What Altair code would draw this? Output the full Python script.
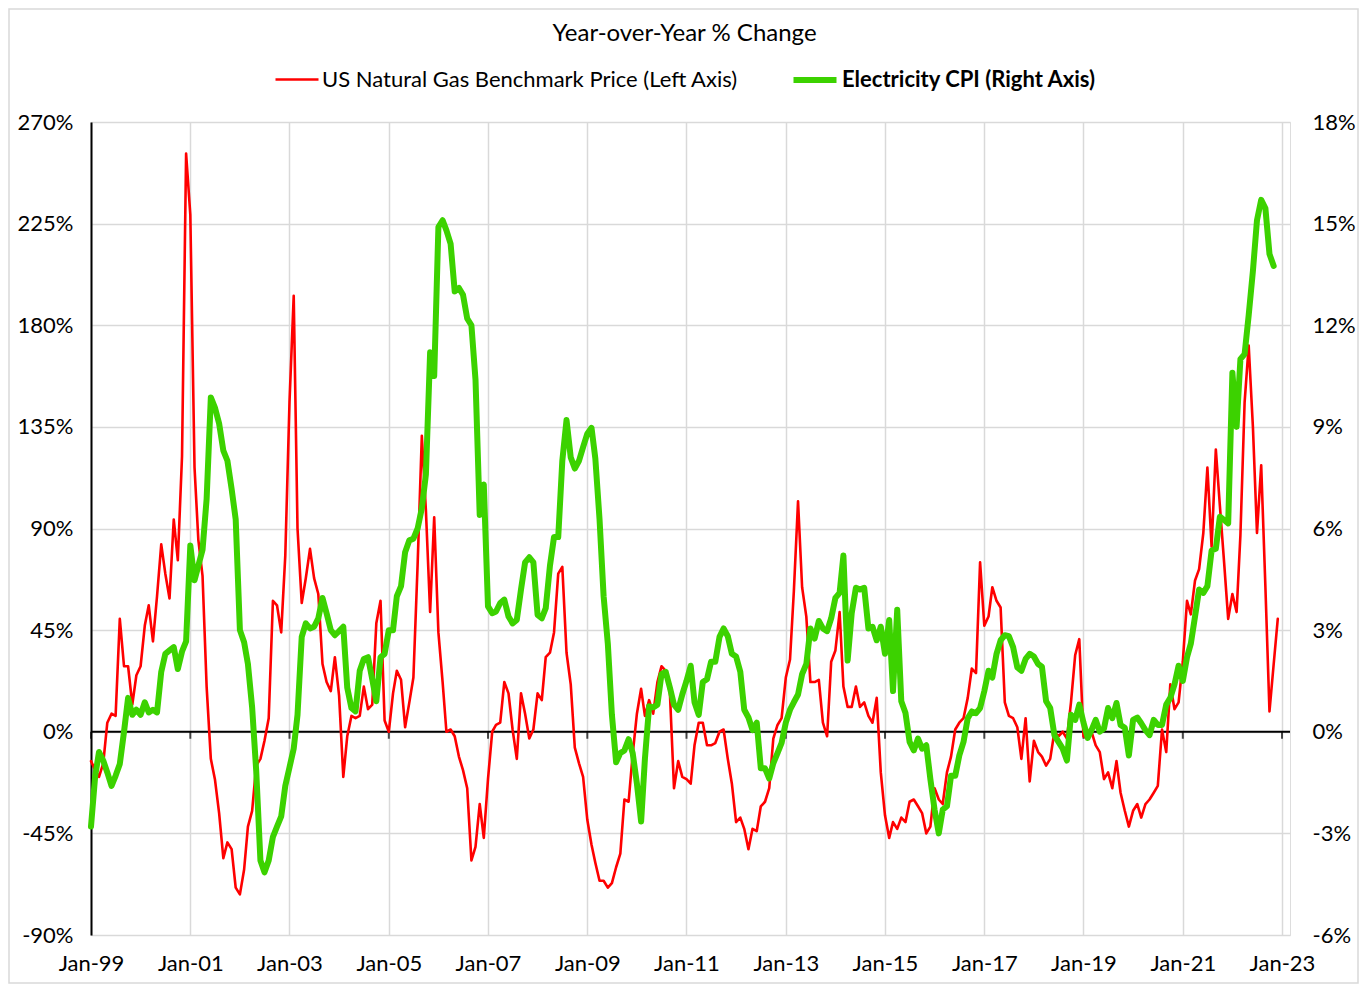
import altair as alt
import pandas as pd

title_text = "Year-over-Year % Change"
gas_name = "US Natural Gas Benchmark Price (Left Axis)"
cpi_name = "Electricity CPI (Right Axis)"
start_month = "1999-01-01"

# Monthly YoY % change of the US natural gas benchmark price (Jan-99 .. Dec-22)
gas_yoy = [
    -13, -17, -20, -14, 4, 8, 7, 50, 29, 29, 12, 25,
    29, 47, 56, 40, 60, 83, 70, 59, 94, 76, 122, 256,
    229, 117, 85, 69, 20, -12, -21, -36, -56, -49, -52, -69,
    -72, -61, -42, -35, -15, -12, -4, 6, 58, 56, 44, 78,
    146, 193, 90, 57, 68, 81, 68, 61, 30, 22, 18, 33,
    16, -20, -2, 7, 6, 7, 20, 10, 12, 48, 58, 5,
    0, 17, 27, 23, 2, 13, 24, 74, 131, 98, 53, 95,
    44, 22, 0, 1, -2, -11, -17, -25, -57, -51, -32, -47,
    -21, 0, 3, 4, 22, 17, 1, -12, 17, 8, -3, 1,
    17, 14, 33, 35, 44, 70, 73, 35, 21, -7, -14, -20,
    -39, -50, -58, -66, -66, -69, -67, -60, -54, -30, -31, -10,
    8, 19, 7, 14, 8, 22, 29, 27, 17, -25, -13, -20,
    -21, -23, -6, 4, 4, -6, -6, -5, 0, 1, -12, -23,
    -40, -38, -43, -52, -43, -44, -33, -31, -25, -3, 3, 6,
    24, 32, 62, 102, 64, 51, 22, 22, 23, 4, -2, 31,
    36, 53, 20, 11, 11, 20, 11, 13, 7, 4, 15, -18,
    -37, -47, -40, -43, -38, -40, -31, -30, -33, -36, -45, -42,
    -25, -30, -32, -18, -11, 1, 4, 6, 15, 28, 26, 75,
    47, 51, 64, 58, 55, 13, 7, 6, 2, -12, 6, -22,
    -4, -9, -11, -15, -12, 0, -2, 0, -3, 13, 34, 41,
    -2, -3, 0, -6, -9, -21, -18, -25, -13, -27, -35, -42,
    -35, -32, -38, -32, -30, -27, -24, 1, -9, 21, 10, 13,
    31, 58, 52, 67, 72, 88, 117, 82, 125, 100, 75, 50,
    61, 53, 87, 146, 171, 135, 88, 118, 64, 9, 30, 50,
]

# Monthly YoY % change of the electricity CPI (Jan-99 .. Nov-22)
cpi_yoy = [
    -2.8, -1.3, -0.6, -0.85, -1.2, -1.6, -1.3, -0.95, 0.0, 1.0, 0.5, 0.65,
    0.5, 0.87, 0.57, 0.65, 0.57, 1.77, 2.3, 2.4, 2.5, 1.85, 2.37, 2.67,
    5.5, 4.47, 4.9, 5.37, 6.87, 9.87, 9.57, 9.1, 8.3, 8.0, 7.17, 6.27,
    3.0, 2.64, 2.0, 0.72, -1.15, -3.8, -4.15, -3.8, -3.1, -2.8, -2.5, -1.6,
    -1.05, -0.5, 0.5, 2.8, 3.2, 3.05, 3.1, 3.35, 3.95, 3.5, 3.0, 2.85,
    2.97, 3.1, 1.3, 0.7, 0.6, 1.8, 2.15, 2.2, 1.55, 0.9, 2.2, 2.3,
    3.0, 3.0, 4.0, 4.3, 5.3, 5.65, 5.7, 6.0, 6.6, 7.6, 11.2, 10.5,
    14.9, 15.1, 14.8, 14.4, 13.0, 13.1, 12.9, 12.2, 12.0, 10.4, 6.4, 7.3,
    3.7, 3.5, 3.55, 3.8, 3.9, 3.4, 3.2, 3.3, 4.2, 5.0, 5.15, 5.0,
    3.45, 3.35, 3.65, 4.9, 5.75, 5.75, 8.0, 9.2, 8.1, 7.77, 8.0, 8.4,
    8.8, 8.97, 8.07, 6.27, 4.0, 2.6, 0.5, -0.9, -0.63, -0.55, -0.22, -0.63,
    -1.53, -2.65, -0.8, 0.75, 0.72, 0.8, 1.7, 1.77, 1.3, 0.8, 0.65, 1.1,
    1.5, 1.95, 0.87, 0.5, 1.47, 1.55, 2.07, 2.07, 2.8, 3.05, 2.82, 2.3,
    2.22, 1.77, 0.65, 0.42, 0.05, 0.27, -1.08, -1.08, -1.38, -0.93, -0.63, -0.33,
    0.27, 0.65, 0.87, 1.1, 1.7, 2.0, 3.05, 2.75, 3.27, 3.05, 2.97, 3.35,
    3.95, 4.1, 5.2, 2.1, 3.5, 4.25, 4.2, 4.25, 3.05, 3.1, 2.7, 3.1,
    2.3, 3.3, 1.2, 3.6, 0.9, 0.55, -0.3, -0.55, -0.2, -0.5, -0.4, -1.4,
    -2.3, -3.0, -2.3, -2.2, -1.3, -1.3, -0.7, -0.3, 0.4, 0.6, 0.55, 0.7,
    1.2, 1.8, 1.6, 2.3, 2.7, 2.85, 2.82, 2.5, 1.9, 1.8, 2.15, 2.3,
    2.22, 2.0, 1.92, 0.9, 0.7, -0.1, -0.3, -0.5, -0.85, 0.5, 0.35, 0.8,
    0.27, -0.18, 0.05, 0.35, 0.0, 0.1, 0.7, 0.4, 0.85, 0.2, 0.12, -0.7,
    0.35, 0.42, 0.25, 0.05, -0.1, 0.35, 0.2, 0.2, 0.8, 1.0, 1.4, 1.95,
    1.5, 2.2, 2.6, 3.4, 4.2, 4.1, 4.3, 5.35, 5.4, 6.35, 6.25, 6.15,
    10.6, 9.0, 11.0, 11.15, 12.3, 13.6, 15.1, 15.7, 15.45, 14.1, 13.75,
]

left_ticks = [-90, -45, 0, 45, 90, 135, 180, 225, 270]
right_ticks = [-6, -3, 0, 3, 6, 9, 12, 15, 18]
year_ticks = list(range(1999, 2024, 2))

gas_df = pd.DataFrame({
    "date": pd.date_range(start_month, periods=len(gas_yoy), freq="MS"),
    "value": gas_yoy,
    "series": gas_name,
})
cpi_df = pd.DataFrame({
    "date": pd.date_range(start_month, periods=len(cpi_yoy), freq="MS"),
    "value": cpi_yoy,
    "series": cpi_name,
})
tick_df = pd.DataFrame({
    "date": pd.to_datetime([f"{y}-01-01" for y in year_ticks]),
    "z": 0,
})
one_row = pd.DataFrame({"v": [0]})

RED = "#ff0000"
GREEN = "#3cd200"
GRID = "#d9d9d9"
FONT = "Lato"
W, H = 1199, 813

x_scale = alt.Scale(domain=[alt.DateTime(year=1999, month=1, date=1),
                            alt.DateTime(year=2023, month=3, date=1)])
x_axis = alt.Axis(
    values=[alt.DateTime(year=y, month=1, date=1) for y in year_ticks],
    format="%b-%y", grid=True, gridColor=GRID, gridWidth=1.5,
    domain=False, ticks=False, labelFlush=False, labelOverlap=False,
    labelPadding=18, labelFontSize=22, labelFont=FONT, labelColor="black",
    title=None, orient="bottom",
)
left_scale = alt.Scale(domain=[-90, 270], nice=False, zero=False)
right_scale = alt.Scale(domain=[-6, 18], nice=False, zero=False)
left_axis = alt.Axis(
    orient="left", values=left_ticks, labelExpr="datum.value + '%'",
    domain=True, domainColor="black", domainWidth=2, ticks=False,
    grid=True, gridColor=GRID, gridWidth=1.5, labelPadding=18,
    labelFontSize=22, labelFont=FONT, labelColor="black", title=None,
)
right_axis = alt.Axis(
    orient="right", values=right_ticks, labelExpr="datum.value + '%'",
    domain=False, ticks=False, grid=False, labelPadding=22,
    labelFontSize=22, labelFont=FONT, labelColor="black", title=None,
)

color_scale = alt.Scale(domain=[gas_name, cpi_name], range=[RED, GREEN])
width_scale = alt.Scale(domain=[gas_name, cpi_name], range=[2.6, 6])
legend = alt.Legend(
    orient="none", legendX=183, legendY=-67, direction="horizontal",
    title=None, symbolType="stroke", symbolSize=1850, labelFontSize=22,
    labelFont=FONT, labelColor="black", labelOffset=2, columnPadding=43,
    padding=0, labelLimit=800,
    labelFontWeight={"expr": f"datum.label == '{cpi_name}' ? 'bold' : 'normal'"},
)

frame = alt.Chart(one_row).mark_rect(filled=False, stroke=GRID, strokeWidth=1.5).encode(
    x=alt.value(-82), x2=alt.value(W + 68), y=alt.value(-113), y2=alt.value(H + 48)
)

zero_line = alt.Chart(one_row).mark_rule(color="black", strokeWidth=2).encode(
    y=alt.Y("v:Q", scale=left_scale, axis=None)
)

zero_ticks = alt.Chart(tick_df).mark_tick(
    color="black", orient="vertical", size=7, thickness=2, yOffset=3.5
).encode(
    x=alt.X("date:T", scale=x_scale, axis=x_axis),
    y=alt.Y("z:Q", scale=left_scale, axis=None),
)

gas_line = alt.Chart(gas_df).mark_line(strokeCap="round", strokeJoin="round").encode(
    x=alt.X("date:T", scale=x_scale, axis=x_axis),
    y=alt.Y("value:Q", scale=left_scale, axis=left_axis),
    color=alt.Color("series:N", scale=color_scale, legend=legend),
    strokeWidth=alt.StrokeWidth("series:N", scale=width_scale, legend=legend),
)

cpi_line = alt.Chart(cpi_df).mark_line(strokeCap="round", strokeJoin="round").encode(
    x=alt.X("date:T", scale=x_scale, axis=x_axis),
    y=alt.Y("value:Q", scale=right_scale, axis=right_axis),
    color=alt.Color("series:N", scale=color_scale, legend=legend),
    strokeWidth=alt.StrokeWidth("series:N", scale=width_scale, legend=legend),
)

chart = alt.layer(frame, zero_line, zero_ticks, gas_line, cpi_line).resolve_scale(
    y="independent"
).properties(
    width=W, height=H,
    padding={"left": 83, "top": 114, "right": 70, "bottom": 50},
    autosize=alt.AutoSizeParams(type="none"),
    title=alt.TitleParams(text=title_text, fontSize=24, font=FONT, fontWeight="normal",
                          color="black", anchor="middle", offset=0, dy=38, dx=-6),
).configure_view(stroke=None).configure(font=FONT)

chart.save("out.html", embed_options={"renderer": "svg", "actions": False})
